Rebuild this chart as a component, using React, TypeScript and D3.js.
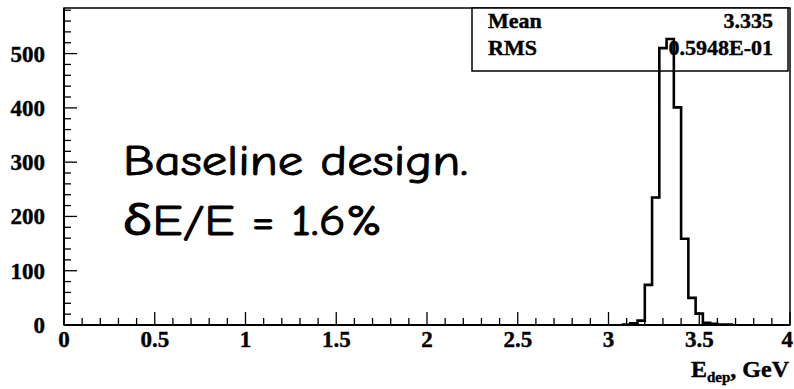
import React from "react";
import * as d3 from "d3";

// Histogram data (bins of width 0.04 GeV)
const binStarts = [3.08, 3.12, 3.16, 3.2, 3.24, 3.28, 3.32, 3.36, 3.4, 3.44, 3.48, 3.52, 3.56, 3.6, 3.64];
const counts = [1, 3, 8, 74, 235, 510, 527, 401, 159, 50, 21, 4, 2, 1, 1];
const binWidth = 0.04;

const xMajorTicks = [0, 0.5, 1, 1.5, 2, 2.5, 3, 3.5, 4];
const xTickLabels = ["0", "0.5", "1", "1.5", "2", "2.5", "3", "3.5", "4"];
const yMajorTicks = [0, 100, 200, 300, 400, 500];
const yTickLabels = ["0", "100", "200", "300", "400", "500"];

const statNames = ["Mean", "RMS"];
const statValues = ["3.335", "0.5948E-01"];

const annotationLines = ["Baseline design.", "\u03b4E/E = 1.6%"];

const W = 794;
const H = 389;
const L = 64, R = 790, T = 8, B = 325;

export default function App() {
  const x = d3.scaleLinear().domain([0, 4]).range([L, R]);
  const y = d3.scaleLinear().domain([0, 584]).range([B, T]);

  const pts: [number, number][] = [];
  pts.push([binStarts[0], 0]);
  binStarts.forEach((s, i) => {
    pts.push([s, counts[i]]);
    pts.push([s + binWidth, counts[i]]);
  });
  pts.push([binStarts[binStarts.length - 1] + binWidth, 0]);
  const line = d3
    .line<[number, number]>()
    .x((d) => x(d[0]))
    .y((d) => y(d[1]));

  const xMinor = d3.range(0, 41).map((i) => i * 0.1).filter((v) => Math.abs(v * 2 - Math.round(v * 2)) > 1e-6);
  const yMinor = d3.range(0, 30).map((i) => i * 20).filter((v) => v % 100 !== 0 && v < 584);

  const serif = "'Liberation Serif', 'Times New Roman', serif";
  const comic = "'Comic Sans MS', 'Comic Neue', 'Noto Sans', sans-serif";

  return (
    <svg
      width={W}
      height={H}
      style={{ position: "absolute", left: 0, top: 0, background: "#fff" }}
    >
      <rect x={0} y={0} width={W} height={H} fill="#fff" />
      {/* ticks */}
      {xMajorTicks.map((v) => (
        <line key={"xM" + v} x1={x(v)} x2={x(v)} y1={B} y2={B - 13} stroke="#000" strokeWidth={1.3} />
      ))}
      {xMinor.map((v) => (
        <line key={"xm" + v} x1={x(v)} x2={x(v)} y1={B} y2={B - 7} stroke="#000" strokeWidth={1.3} />
      ))}
      {yMajorTicks.map((v) => (
        <line key={"yM" + v} x1={L} x2={L + 13} y1={y(v)} y2={y(v)} stroke="#000" strokeWidth={1.3} />
      ))}
      {yMinor.map((v) => (
        <line key={"ym" + v} x1={L} x2={L + 7} y1={y(v)} y2={y(v)} stroke="#000" strokeWidth={1.3} />
      ))}
      {/* frame */}
      <rect x={L} y={T} width={R - L} height={B - T} fill="none" stroke="#000" strokeWidth={1.5} />
      <line x1={L} x2={R} y1={B} y2={B} stroke="#000" strokeWidth={2} />
      <line x1={L} x2={L} y1={T} y2={B} stroke="#000" strokeWidth={2} />

      {/* tick labels */}
      {xMajorTicks.map((v, i) => {
        const last = i === xMajorTicks.length - 1;
        return (
          <text
            key={"xl" + v}
            x={last ? W - 1 : x(v)}
            y={347}
            textAnchor={last ? "end" : "middle"}
            fontFamily={serif}
            fontWeight="bold"
            fontSize={23}
            stroke="#000"
            strokeWidth={0.4}
          >
            {xTickLabels[i]}
          </text>
        );
      })}
      {yMajorTicks.map((v, i) => (
        <text
          key={"yl" + v}
          x={45}
          y={y(v) + 8}
          textAnchor="end"
          fontFamily={serif}
          fontWeight="bold"
          fontSize={23}
          stroke="#000"
          strokeWidth={0.4}
        >
          {yTickLabels[i]}
        </text>
      ))}

      {/* axis title */}
      <text x={789} y={377} textAnchor="end" fontFamily={serif} fontWeight="bold" fontSize={24} stroke="#000" strokeWidth={0.4}>
        <tspan>E</tspan>
        <tspan fontSize={15} dy={5}>dep</tspan>
        <tspan dy={-5}>, GeV</tspan>
      </text>

      {/* stats box */}
      <rect x={472} y={8} width={316} height={63} fill="#fff" stroke="#000" strokeWidth={1.5} />
      {statNames.map((n, i) => (
        <g key={n}>
          <text x={488} y={28 + i * 27} fontFamily={serif} fontWeight="bold" fontSize={22} stroke="#000" strokeWidth={0.4}>
            {n}
          </text>
          <text x={773} y={28 + i * 27} textAnchor="end" fontFamily={serif} fontWeight="bold" fontSize={22} stroke="#000" strokeWidth={0.4}>
            {statValues[i]}
          </text>
        </g>
      ))}

      {/* annotation */}
      <text x={123} y={175} fontFamily={comic} fontSize={42} textLength={345} lengthAdjust="spacingAndGlyphs" stroke="#000" strokeWidth={0.9}>
        {annotationLines[0]}
      </text>
      <text x={123} y={235} fontFamily={comic} fontSize={42} textLength={259} lengthAdjust="spacingAndGlyphs" stroke="#000" strokeWidth={0.9}>
        {annotationLines[1]}
      </text>

      {/* histogram */}
      <path d={line(pts) || ""} fill="none" stroke="#000" strokeWidth={2.6} strokeLinejoin="miter" />
    </svg>
  );
}
